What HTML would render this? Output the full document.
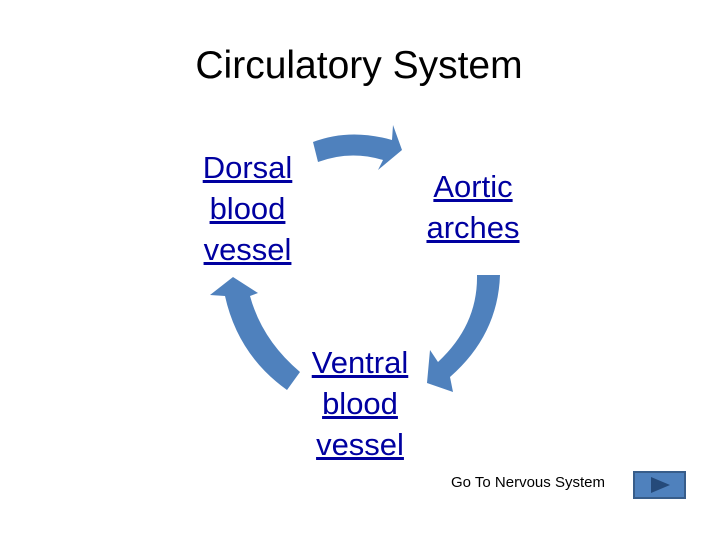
<!DOCTYPE html>
<html><head><meta charset="utf-8"><style>
body{margin:0;background:#fff;}
#c{position:relative;width:720px;height:540px;overflow:hidden;font-family:"Liberation Sans",sans-serif;}
.t{position:absolute;text-align:center;color:#0000a0;text-decoration:underline;font-size:31px;line-height:41px;font-family:"Liberation Sans",sans-serif;}
</style></head><body><div id="c">
<div style="position:absolute;left:0;top:44px;width:718px;text-align:center;font-size:39px;color:#000;">Circulatory System</div>
<svg width="720" height="540" style="position:absolute;left:0;top:0">
<g fill="#4f81bd">
<path d="M313,142 Q350,128 392,140 L393,125 L402,150 L378,170 L383,160 Q350,150 318,162 Z"/>
<path d="M477,275 L500,275 Q498,335 450,377 L453,392 L427,383 L430,350 L438,362 Q478,325 477,275 Z"/>
<path d="M287,390 L300,372 Q262,340 250,296 L258,293 L233,277 L210,295 L225,296 Q238,355 287,390 Z"/>
</g>
<rect x="634" y="472" width="51" height="26" fill="#4f81bd" stroke="#385d8a" stroke-width="2"/>
<path d="M651,477 L670,485 L651,493 Z" fill="#254a7a"/>
</svg>
<div class="t" style="left:190px;top:147px;width:115px;">Dorsal<br>blood<br>vessel</div>
<div class="t" style="left:413px;top:166px;width:120px;">Aortic<br>arches</div>
<div class="t" style="left:300px;top:342px;width:120px;">Ventral<br>blood<br>vessel</div>
<div style="position:absolute;left:451px;top:474px;font-size:15px;color:#000;">Go To Nervous System</div>
</div></body></html>
